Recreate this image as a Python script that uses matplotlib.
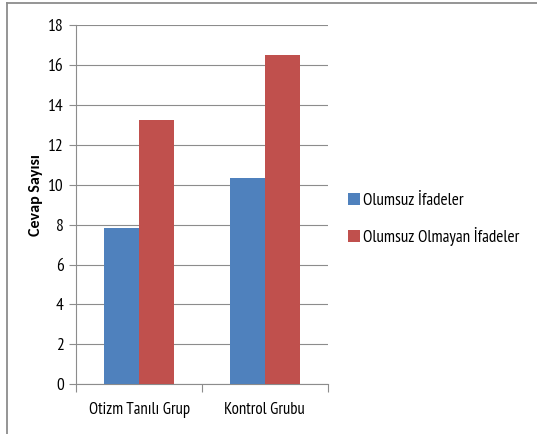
import numpy as np
import matplotlib
matplotlib.use('Agg')
import matplotlib.pyplot as plt
from matplotlib.lines import Line2D

plt.rcParams['font.family'] = ['PT Sans Narrow', 'DejaVu Sans']

groups = ['Otizm Tanılı Grup', 'Kontrol Grubu']
series = ['Olumsuz İfadeler', 'Olumsuz Olmayan İfadeler']
olumsuz = [7.85, 10.35]
olumsuz_olmayan = [13.25, 16.5]
colors = ['#4F81BD', '#C0504D']

fig = plt.figure(figsize=(5.37, 4.34), dpi=100)
ax = fig.add_axes([0.1421, 0.1145, 0.468, 0.828])

x = np.arange(len(groups))
w = 0.28
ax.bar(x - w/2, olumsuz, w, color=colors[0], label=series[0], zorder=3)
ax.bar(x + w/2, olumsuz_olmayan, w, color=colors[1], label=series[1], zorder=3)

ax.set_xlim(-0.5, 1.5)
ax.set_ylim(0, 18)
ax.set_yticks(np.arange(0, 19, 2))
ax.yaxis.grid(True, color='#8c8c8c', linewidth=0.8, zorder=0)
ax.set_xticks([-0.5, 0.5, 1.5], minor=False)
ax.set_xticklabels([])
ax.set_xticks(x, minor=True)
ax.set_xticklabels(groups, minor=True, fontsize=12)
ax.tick_params(axis='x', which='minor', length=0, pad=13)
ax.tick_params(axis='x', which='major', length=6, color='#8c8c8c')
ax.tick_params(axis='y', length=5, color='#8c8c8c', labelsize=12.5, pad=4)
for s in ['top', 'right']:
    ax.spines[s].set_visible(False)
for s in ['left', 'bottom']:
    ax.spines[s].set_color('#8c8c8c')
ax.set_ylabel('Cevap Sayısı', fontsize=11.5, fontweight='bold', family=['Carlito', 'DejaVu Sans'])
ax.yaxis.set_label_coords(-0.1325, 0.527)

ax.legend(loc='center left', bbox_to_anchor=(1.02, 0.459), frameon=False, fontsize=12.3,
          handlelength=0.7, handleheight=0.7, handletextpad=0.2, labelspacing=1.05)

# outer frame (only left and top edges visible in the reference)
bx = 6.5 / 537
ty = 1 - 2.7 / 434
fig.lines.append(Line2D([bx, bx], [0, ty], transform=fig.transFigure, color='#8c8c8c', linewidth=1.3))
fig.lines.append(Line2D([bx, 1], [ty, ty], transform=fig.transFigure, color='#8c8c8c', linewidth=1.3))

fig.savefig('out.png', dpi=100)
